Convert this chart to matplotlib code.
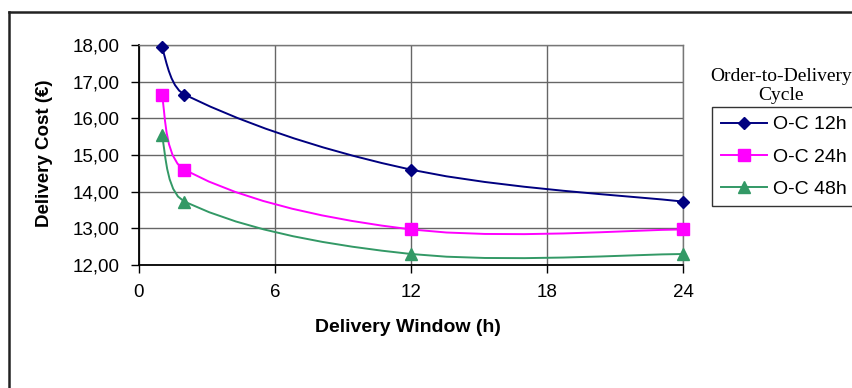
import numpy as np
import matplotlib
matplotlib.use("Agg")
import matplotlib.pyplot as plt
from matplotlib.lines import Line2D

# ---- data ----
windows = [1, 2, 12, 24]
series_names = ["O-C 12h", "O-C 24h", "O-C 48h"]
cost_12h = [17.95, 16.65, 14.60, 13.73]
cost_24h = [16.65, 14.60, 12.97, 12.97]
cost_48h = [15.55, 13.73, 12.30, 12.30]
x_ticks = [0, 6, 12, 18, 24]
y_ticks = [12, 13, 14, 15, 16, 17, 18]
legend_title = "Order-to-Delivery\nCycle"

colors = ["#000080", "#FF00FF", "#339966"]
markers = ["D", "s", "^"]
msizes = [6.5, 8, 8]

plt.rcParams['font.family'] = ['Liberation Sans', 'DejaVu Sans']

W, H = 852, 388
fig = plt.figure(figsize=(W / 100, H / 100), dpi=100)
ax = fig.add_axes([139 / W, 1 - 265 / H, (683 - 139) / W, (265 - 45) / H])
ax.set_xlim(0, 24)
ax.set_ylim(12, 18)


def smooth(ax, xs, ys, n=9):
    """Excel-like smoothed line: cubic Bezier (Catmull-Rom style) in display space,
    flattened into straight pieces like the original renderer."""
    pts = ax.transData.transform(np.column_stack([xs, ys]))
    m = len(pts)
    out = [pts[0]]
    for i in range(m - 1):
        p0 = pts[i - 1] if i > 0 else pts[i]
        p1 = pts[i]
        p2 = pts[i + 1]
        p3 = pts[i + 2] if i + 2 < m else pts[i + 1]
        d01 = np.linalg.norm(p1 - p0)
        d12 = np.linalg.norm(p2 - p1)
        d23 = np.linalg.norm(p3 - p2)
        if d01 == 0:
            c1 = p1 + (p2 - p1) / 6
        else:
            c1 = p1 + (p2 - p0) * (d12 / (d01 + d12)) / 3
        if d23 == 0:
            c2 = p2 - (p2 - p1) / 6
        else:
            c2 = p2 - (p3 - p1) * (d12 / (d12 + d23)) / 3
        t = np.linspace(0, 1, n)[1:, None]
        b = ((1 - t) ** 3) * p1 + 3 * ((1 - t) ** 2) * t * c1 + 3 * (1 - t) * t ** 2 * c2 + t ** 3 * p2
        out.extend(b)
    out = np.array(out)
    return ax.transData.inverted().transform(out)


all_series = [cost_12h, cost_24h, cost_48h]
for name, vals, c, mk, ms in zip(series_names, all_series, colors, markers, msizes):
    curve = smooth(ax, windows, vals)
    ax.plot(curve[:, 0], curve[:, 1], color=c, lw=1.4, zorder=3, clip_on=False)
    ax.plot(windows, vals, linestyle='none', marker=mk, ms=ms, color=c,
            markeredgecolor=c, zorder=4, clip_on=False)

# legend handles
handles = [Line2D([0], [0], color=c, lw=1.4, marker=mk, ms=ms, markeredgecolor=c)
           for c, mk, ms in zip(colors, markers, msizes)]

ax.set_xticks(x_ticks)
ax.set_yticks(y_ticks)
ax.set_yticklabels([f"{v:.2f}".replace('.', ',') for v in y_ticks])
ax.set_xticklabels([str(v) for v in x_ticks])
ax.tick_params(axis='both', labelsize=13.5, direction='out', length=6, width=1, colors='black')
ax.tick_params(axis='x', pad=8)
ax.tick_params(axis='y', pad=8)
ax.grid(True, color='#666666', lw=1)
ax.set_axisbelow(True)
for s in ['top', 'right']:
    ax.spines[s].set_color('#777777')
    ax.spines[s].set_linewidth(1)
for s in ['left', 'bottom']:
    ax.spines[s].set_color('black')
    ax.spines[s].set_linewidth(1.3)

fig.text(408 / W, 1 - 328 / H, "Delivery Window (h)", ha='center', va='center',
         fontsize=14, fontweight='bold')
fig.text(45 / W, 1 - 153 / H, "Delivery Cost (€)", ha='center', va='center',
         fontsize=13.5, fontweight='bold', rotation=90)

# legend title (serif, outside the box)
fig.text(781 / W, 1 - 86 / H, legend_title, ha='center', va='center',
         fontsize=14, family=['Liberation Serif', 'DejaVu Serif'], linespacing=1.1)

leg = fig.legend(handles, series_names, loc='upper left',
                 bbox_to_anchor=(712 / W, 1 - 107 / H), borderaxespad=0,
                 fontsize=14, frameon=True, fancybox=False, handlelength=2.4,
                 handletextpad=0.3, borderpad=0.45, labelspacing=0.75)
leg.get_frame().set_edgecolor('black')
leg.get_frame().set_linewidth(1)

# outer chart frame (left and top edges visible)
fig.add_artist(Line2D([8.5 / W, 8.5 / W], [0, 1 - 11.5 / H], transform=fig.transFigure,
                      color='#222222', lw=1.8))
fig.add_artist(Line2D([8.5 / W, 1], [1 - 11.5 / H, 1 - 11.5 / H], transform=fig.transFigure,
                      color='#222222', lw=1.8))

fig.savefig("out.png", dpi=100)
